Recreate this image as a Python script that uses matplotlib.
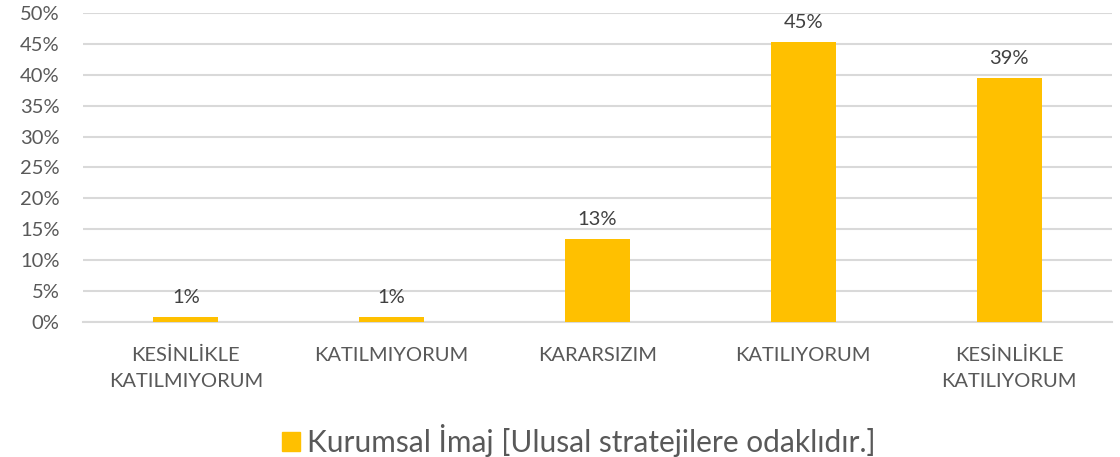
import numpy as np
import matplotlib.pyplot as plt
from matplotlib.patches import Patch

plt.rcParams['font.family'] = ['Lato', 'DejaVu Sans']

categories = ['KESİNLİKLE\nKATILMIYORUM', 'KATILMIYORUM', 'KARARSIZIM',
              'KATILIYORUM', 'KESİNLİKLE\nKATILIYORUM']
values = [0.8, 0.8, 13.4, 45.3, 39.4]   # percent
series_name = 'Kurumsal İmaj [Ulusal stratejilere odaklıdır.]'
yticks = [0, 5, 10, 15, 20, 25, 30, 35, 40, 45, 50]

bar_color = '#FFC000'
grid_color = '#D9D9D9'

fig = plt.figure(figsize=(11.2, 4.57), dpi=100)
ax = fig.add_axes([0.0741, 0.2954, 0.9188, 0.6762])

x = np.arange(len(categories))
bars = ax.bar(x, values, width=0.315, color=bar_color, zorder=3)

for xi, v in zip(x, values):
    ax.annotate(f'{v:.0f}%', (xi, v), xytext=(0, 8), textcoords='offset points',
                ha='center', va='bottom', fontsize=14.5, color='#404040')

ax.set_xlim(-0.5, len(categories) - 0.5)
ax.set_ylim(0, 50)
ax.set_yticks(yticks)
ax.set_yticklabels([f'{t}%' for t in yticks])
ax.set_xticks(x)
ax.set_xticklabels(categories, linespacing=1.65)
ax.tick_params(axis='y', length=0, pad=17, labelsize=14.5, labelcolor='#595959')
ax.tick_params(axis='x', length=0, pad=18, labelsize=14.5, labelcolor='#595959')
ax.grid(axis='y', color=grid_color, linewidth=1.5, zorder=0)
for s in ['top', 'right', 'left']:
    ax.spines[s].set_visible(False)
ax.spines['bottom'].set_color(grid_color)
ax.spines['bottom'].set_linewidth(1.5)

fig.legend(handles=[Patch(color=bar_color, label=series_name)],
           loc='center', bbox_to_anchor=(0.517, 0.037), frameon=False,
           fontsize=21.5, labelcolor='#595959', handlelength=0.6, handleheight=0.6,
           handletextpad=0.25)

fig.savefig('out.png', dpi=100)
